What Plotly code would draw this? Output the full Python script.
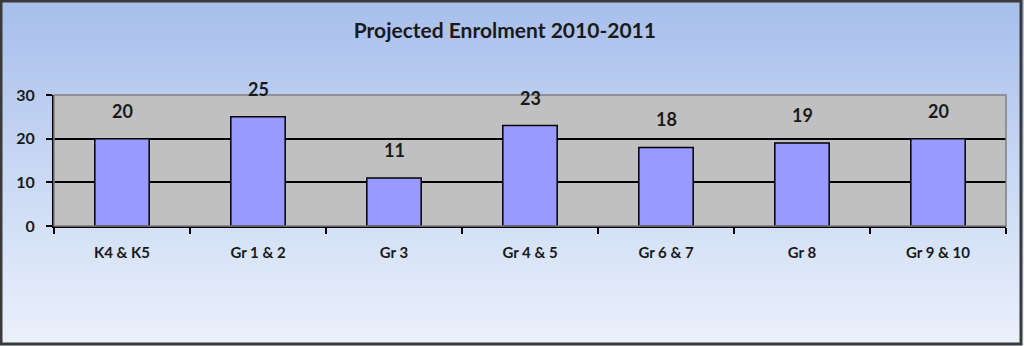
import plotly.graph_objects as go

categories = ["K4 & K5", "Gr 1 & 2", "Gr 3", "Gr 4 & 5", "Gr 6 & 7", "Gr 8", "Gr 9 & 10"]
enrolment = [20, 25, 11, 23, 18, 19, 20]
y_ticks = [0, 10, 20, 30]
title_text = "Projected Enrolment 2010-2011"

W, H = 1024, 346
ML, MR, MT, MB = 54, 18, 95, 120
PW, PH = W - ML - MR, H - MT - MB
FONT = "Lato"

fig = go.Figure()
fig.add_trace(go.Bar(
    x=categories, y=enrolment,
    marker=dict(color="#9999FF", line=dict(color="#000000", width=1.5)),
    hoverinfo="x+y",
))

# data labels
for c, v in zip(categories, enrolment):
    fig.add_annotation(x=c, y=v, text=str(v), showarrow=False, yshift=28,
                       font=dict(family=FONT, size=18, color="#1a1a1a", weight="bold"))

# paper -> plot-relative coords helpers
def px_x(px):
    return (px - ML) / PW

def px_y(py):
    return (H - MB - py) / PH

# background gradient over whole figure
shapes = []
top = (0xA7, 0xBF, 0xEC)
bot = (0xEB, 0xF1, 0xFB)
n = 70
for i in range(n):
    t = i / (n - 1)
    r = round(top[0] + (bot[0] - top[0]) * t)
    g = round(top[1] + (bot[1] - top[1]) * t)
    b = round(top[2] + (bot[2] - top[2]) * t)
    py0 = H * i / n
    py1 = H * (i + 1) / n + 1
    shapes.append(dict(type="rect", xref="paper", yref="paper", x0=px_x(-2), x1=px_x(W + 2),
                       y0=px_y(py1), y1=px_y(py0), fillcolor=f"rgb({r},{g},{b})",
                       line=dict(width=0), layer="below"))
# gray plot area on top of gradient
shapes.append(dict(type="rect", xref="paper", yref="paper", x0=0, x1=1, y0=0, y1=1,
                   fillcolor="#C0C0C0", line=dict(width=0), layer="below"))

fig.update_layout(
    width=W, height=H,
    margin=dict(l=ML, r=MR, t=MT, b=MB),
    paper_bgcolor="#D0DDF5",
    plot_bgcolor="#C0C0C0",
    bargap=0.6,
    showlegend=False,
    shapes=shapes,
    title=dict(text=title_text, x=0.493, xanchor="center", y=1 - 31 / H, yanchor="middle",
               font=dict(family=FONT, size=21, color="#1a1a1a", weight="bold")),
    font=dict(family=FONT, color="#1a1a1a"),
)

# frame
fig.add_shape(type="rect", xref="paper", yref="paper", x0=px_x(1), x1=px_x(1021),
              y0=px_y(344), y1=px_y(1), line=dict(color="#3a3a3a", width=3),
              fillcolor="rgba(0,0,0,0)", layer="above")
# plot area border
fig.add_shape(type="rect", xref="paper", yref="paper", x0=0, x1=1, y0=0, y1=1,
              line=dict(color="#808080", width=1.5), fillcolor="rgba(0,0,0,0)", layer="above")

fig.update_xaxes(
    showgrid=False, showline=True, linecolor="#000000", linewidth=2,
    ticks="outside", ticklen=6, tickwidth=1.5, tickcolor="#000000", tickson="boundaries",
    tickfont=dict(family=FONT, size=15, color="#1a1a1a", weight="bold"),
    ticklabelstandoff=12, zeroline=False,
)
fig.update_yaxes(
    range=[0, 30], tickvals=y_ticks, showgrid=True, gridcolor="#000000", gridwidth=2,
    showline=True, linecolor="#000000", linewidth=2,
    ticks="outside", ticklen=6, tickwidth=1.5, tickcolor="#000000",
    tickfont=dict(family=FONT, size=16, color="#1a1a1a", weight="bold"),
    ticklabelstandoff=8, zeroline=False,
)

fig.write_html("out.html")
